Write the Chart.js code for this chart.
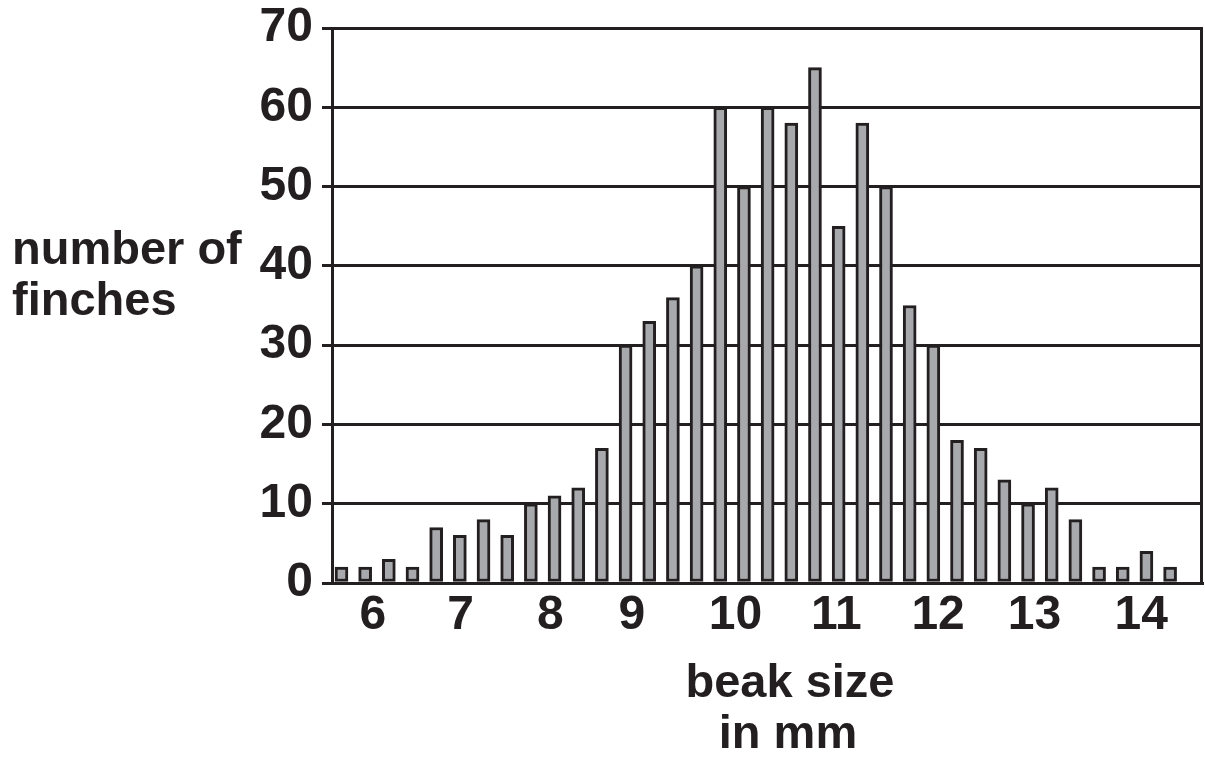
<!DOCTYPE html>
<html>
<head>
<meta charset="utf-8">
<script src="https://cdn.jsdelivr.net/npm/chart.js@4.4.1/dist/chart.umd.min.js"></script>
<style>
  html, body { margin: 0; padding: 0; background: #ffffff; }
  #wrap { width: 1205px; height: 758px; position: relative; }
</style>
</head>
<body>
<div id="wrap"><canvas id="chart"></canvas></div>
<script>
// finch counts, one bar per beak-size step, left to right
const finchCounts = [2, 2, 3, 2, 7, 6, 8, 6, 10, 11, 12, 17, 30, 33, 36, 40, 60, 50,
                     60, 58, 65, 45, 58, 50, 35, 30, 18, 17, 13, 10, 12, 8, 2, 2, 4, 2]
const beakLabels = ["6", "7", "8", "9", "10", "11", "12", "13", "14"]
const countTicks = [0, 10, 20, 30, 40, 50, 60, 70]

// where each beak label sits along the bar row (in bar units)
const beakLabelSpots = [1.33, 5.03, 8.82, 12.27, 16.64, 20.9, 25.2, 29.27, 33.78]

const ink = "#231f20"
const font = "'Liberation Sans', Arial, Helvetica, sans-serif"

const bars = finchCounts.map((v, i) => ({ x: i, y: v }))

const titles = {
    id: "titles",
    beforeDatasetsDraw(chart) {
        const { ctx, chartArea } = chart
        ctx.save()
        ctx.strokeStyle = ink
        ctx.lineWidth = 3
        ctx.beginPath()
        ctx.moveTo(chartArea.right - 1.5, chartArea.top)
        ctx.lineTo(chartArea.right - 1.5, chartArea.bottom)
        ctx.stroke()
        ctx.restore()
    },
    afterDraw(chart) {
        const ctx = chart.ctx
        ctx.save()
        ctx.fillStyle = ink
        ctx.font = "bold 47px " + font
        ctx.textBaseline = "alphabetic"
        ctx.textAlign = "left"
        ctx.fillText("number of", 12, 264)
        ctx.fillText("finches", 12, 315)
        ctx.textAlign = "center"
        ctx.fillText("beak size", 790, 697)
        ctx.fillText("in mm", 788, 748)
        ctx.restore()
    }
}

const config = {
    type: "bar",
    data: {
        datasets: [{
            label: "number of finches",
            data: bars,
            backgroundColor: "#a7a9ac",
            borderColor: ink,
            borderWidth: 3,
            borderSkipped: false,
            barThickness: 13
        }]
    },
    options: {
        responsive: true,
        maintainAspectRatio: false,
        animation: false,
        layout: { padding: { top: 28, right: 2, left: 0, bottom: 0 } },
        plugins: {
            legend: { display: false },
            tooltip: { enabled: false }
        },
        scales: {
            x: {
                type: "linear",
                offset: false,
                min: -0.4,
                max: 36.39,
                grid: { display: false },
                border: { display: true, color: ink, width: 3 },
                afterBuildTicks: scale => {
                    scale.ticks = beakLabelSpots.map(v => ({ value: v }))
                },
                afterFit: scale => { scale.height = 175 },
                ticks: {
                    autoSkip: false,
                    maxRotation: 0,
                    padding: 1,
                    color: ink,
                    font: { family: font, size: 48, weight: "bold", lineHeight: 1 },
                    callback: (v, i) => beakLabels[i]
                }
            },
            y: {
                min: 0,
                max: 70,
                afterBuildTicks: scale => {
                    scale.ticks = countTicks.map(v => ({ value: v }))
                },
                afterFit: scale => { scale.width = 332 },
                grid: { color: ink, lineWidth: 3, tickLength: 10, drawTicks: true },
                border: { display: true, color: ink, width: 3 },
                ticks: {
                    padding: 9,
                    color: ink,
                    font: { family: font, size: 48, weight: "bold", lineHeight: 0.75 }
                }
            }
        }
    },
    plugins: [titles]
}

const myChart = new Chart(document.getElementById("chart"), config)
</script>
</body>
</html>
